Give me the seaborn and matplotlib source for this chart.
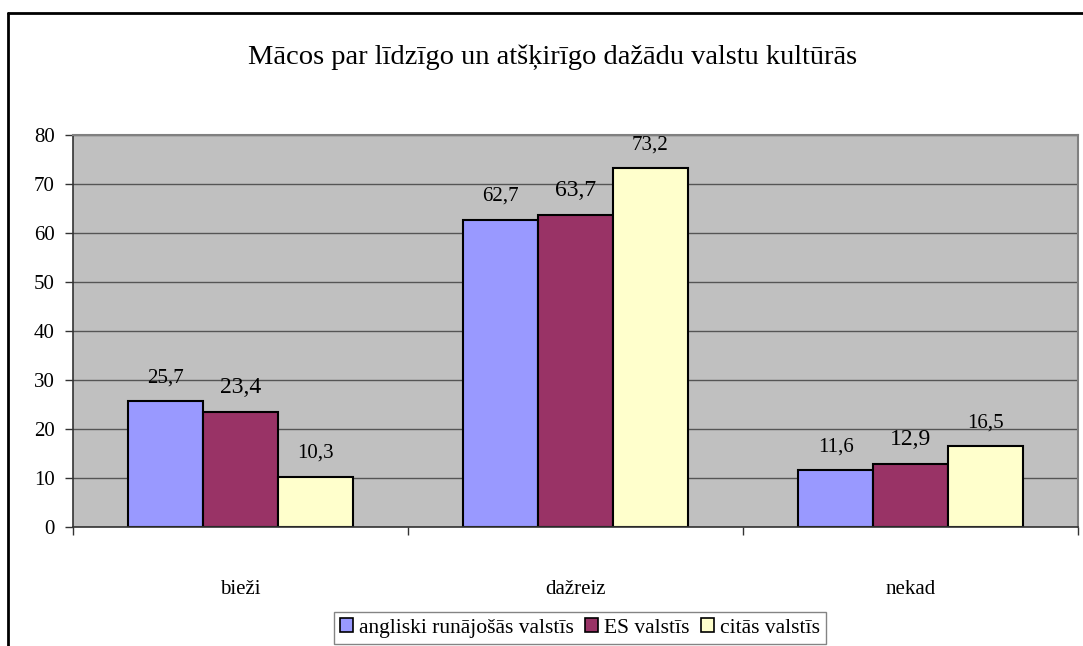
import pandas as pd
import matplotlib.pyplot as plt
import seaborn as sns
import numpy as np
from matplotlib.lines import Line2D
from matplotlib.font_manager import FontProperties

# Data
categories = ["bieži", "dažreiz", "nekad"]
series = ["angliski runājošās valstīs", "ES valstīs", "citās valstīs"]
angliski = [25.7, 62.7, 11.6]
es = [23.4, 63.7, 12.9]
citas = [10.3, 73.2, 16.5]
colors = ["#9999FF", "#993366", "#FFFFCC"]

df = pd.DataFrame({
    "kategorija": categories * 3,
    "grupa": [series[0]] * 3 + [series[1]] * 3 + [series[2]] * 3,
    "vertiba": angliski + es + citas,
})

sns.set_style("white")
plt.rcParams["font.family"] = ["Liberation Serif", "DejaVu Serif"]
plt.rcParams["text.color"] = "black"
plt.rcParams["xtick.color"] = "black"
plt.rcParams["ytick.color"] = "black"
plt.rcParams["axes.labelcolor"] = "black"

W, H = 1083, 646
fig = plt.figure(figsize=(W / 100, H / 100), dpi=100)
ax = fig.add_axes([73 / W, (H - 527) / H, (1078 - 73) / W, (527 - 135) / H])

sns.barplot(data=df, x="kategorija", y="vertiba", hue="grupa", order=categories,
            hue_order=series, palette=colors, width=0.67, gap=0,
            edgecolor="black", linewidth=1.5, saturation=1, ax=ax, legend=False)

ax.set_facecolor("#C0C0C0")
ax.set_ylim(0, 80)
ax.set_xlim(-0.5, 2.5)
ax.set_yticks(np.arange(0, 81, 10))
ax.yaxis.grid(True, color="#555555", linewidth=1)
ax.set_axisbelow(True)
ax.set_xlabel("")
ax.set_ylabel("")

# Value labels, the middle series is a bit larger
label_sizes = [15, 17, 15]
for cont, fs in zip(ax.containers, label_sizes):
    ax.bar_label(cont, labels=[f"{v:.1f}".replace(".", ",") for v in cont.datavalues],
                 padding=10, fontsize=fs, color="black")

ax.tick_params(axis="y", direction="out", length=6, width=1, color="#333333",
               labelcolor="black", pad=7, labelsize=15, left=True)
ax.tick_params(axis="x", which="major", length=0, pad=38, labelsize=15,
               labelcolor="black")
ax.set_xticks([-0.5, 0.5, 1.5, 2.5], minor=True)
ax.tick_params(axis="x", which="minor", direction="out", length=6, width=1,
               color="#333333", bottom=True)

for side in ["left", "bottom"]:
    ax.spines[side].set_color("#333333")
    ax.spines[side].set_linewidth(1.2)
for side in ["top", "right"]:
    ax.spines[side].set_visible(True)
    ax.spines[side].set_color("#808080")
    ax.spines[side].set_linewidth(1.5)

fig.text(553 / W, 1 - 57 / H, "Mācos par līdzīgo un atšķirīgo dažādu valstu kultūrās",
         ha="center", va="center", fontsize=20.5, color="black")

handles = [plt.Rectangle((0, 0), 1, 1, facecolor=c, edgecolor="black", linewidth=1.2)
           for c in colors]
leg_font = FontProperties(family="Liberation Serif", size=15.5)
leg = fig.legend(handles, series, loc="center", bbox_to_anchor=(580 / W, 1 - 628 / H),
                 ncol=3, frameon=True, handlelength=0.6, handleheight=0.6, prop=leg_font,
                 handletextpad=0.3, columnspacing=0.5, borderpad=0.3, fancybox=False)
leg.get_frame().set_edgecolor("#666666")
leg.get_frame().set_linewidth(1)

# outer chart border (only top and left visible in the crop)
fig.add_artist(Line2D([8 / W, 8 / W], [0, 1 - 13 / H], color="black", linewidth=2,
                      transform=fig.transFigure))
fig.add_artist(Line2D([8 / W, 1], [1 - 13 / H, 1 - 13 / H], color="black", linewidth=2,
                      transform=fig.transFigure))

fig.savefig("out.png", dpi=100)
